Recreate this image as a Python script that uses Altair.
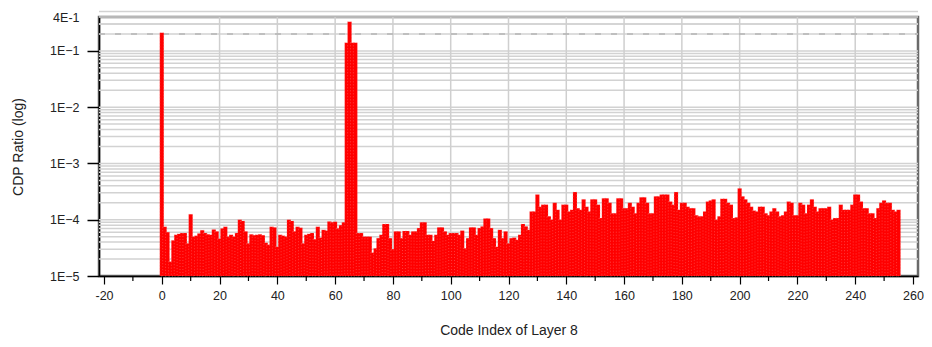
import altair as alt
import pandas as pd

# CDP ratio per code index
cdp_0_63 = [
    0.21, 7.5e-5, 6.0e-5, 1.8e-5, 4.3e-5, 5.4e-5, 5.6e-5, 5.8e-5,
    5.8e-5, 3.8e-5, 1.25e-4, 5.0e-5, 5.2e-5, 5.7e-5, 6.5e-5, 5.8e-5,
    5.5e-5, 5.4e-5, 6.7e-5, 6.2e-5, 4.6e-5, 7.0e-5, 7.5e-5, 5.0e-5,
    5.4e-5, 5.0e-5, 5.8e-5, 1.0e-4, 9.5e-5, 6.2e-5, 3.8e-5, 5.5e-5,
    5.3e-5, 5.4e-5, 5.5e-5, 5.3e-5, 3.9e-5, 3.6e-5, 7.5e-5, 7.3e-5,
    3.3e-5, 5.4e-5, 5.2e-5, 5.0e-5, 1.0e-4, 9.5e-5, 6.2e-5, 7.5e-5,
    7.2e-5, 3.8e-5, 5.4e-5, 5.6e-5, 5.8e-5, 4.5e-5, 7.5e-5, 4.8e-5,
    6.6e-5, 6.4e-5, 9.3e-5, 9.0e-5, 9.2e-5, 7.0e-5, 8.0e-5, 9.0e-5,
]
cdp_64_127 = [
    0.14, 0.33, 0.14, 0.14, 5.8e-5, 5.8e-5, 5.0e-5, 5.0e-5,
    5.0e-5, 2.6e-5, 3.1e-5, 4.7e-5, 5.4e-5, 8.4e-5, 8.4e-5, 4.7e-5,
    3.0e-5, 6.2e-5, 6.2e-5, 4.7e-5, 6.3e-5, 6.3e-5, 5.4e-5, 6.2e-5,
    6.2e-5, 7.1e-5, 9.0e-5, 9.0e-5, 5.4e-5, 5.4e-5, 4.2e-5, 5.4e-5,
    7.3e-5, 7.3e-5, 6.2e-5, 5.4e-5, 5.8e-5, 5.8e-5, 5.8e-5, 5.4e-5,
    6.4e-5, 3.1e-5, 4.7e-5, 7.3e-5, 7.3e-5, 5.4e-5, 7.1e-5, 7.6e-5,
    1.05e-4, 1.05e-4, 7.1e-5, 4.7e-5, 3.3e-5, 6.6e-5, 4.7e-5, 6.2e-5,
    3.8e-5, 4.7e-5, 4.8e-5, 4.4e-5, 5.4e-5, 8.4e-5, 7.6e-5, 6.6e-5,
]
cdp_128_191 = [
    1.4e-4, 1.4e-4, 2.8e-4, 1.7e-4, 1.85e-4, 1.85e-4, 1.15e-4, 1.0e-4,
    2.0e-4, 1.5e-4, 1.0e-4, 1.85e-4, 1.85e-4, 1.4e-4, 1.5e-4, 3.1e-4,
    1.6e-4, 1.5e-4, 2.3e-4, 1.7e-4, 1.4e-4, 2.3e-4, 2.3e-4, 1.85e-4,
    1.07e-4, 2.4e-4, 2.4e-4, 2.0e-4, 1.3e-4, 1.3e-4, 2.4e-4, 2.4e-4,
    1.6e-4, 1.6e-4, 2.0e-4, 1.7e-4, 1.3e-4, 2.0e-4, 2.5e-4, 2.5e-4,
    2.0e-4, 1.3e-4, 1.3e-4, 2.6e-4, 2.6e-4, 2.8e-4, 2.8e-4, 2.8e-4,
    2.1e-4, 1.85e-4, 3.1e-4, 1.5e-4, 2.0e-4, 2.0e-4, 1.7e-4, 1.6e-4,
    1.6e-4, 1.2e-4, 1.15e-4, 1.15e-4, 1.4e-4, 2.1e-4, 2.2e-4, 2.3e-4,
]
cdp_192_255 = [
    1.0e-4, 1.15e-4, 2.35e-4, 2.35e-4, 2.0e-4, 1.85e-4, 1.07e-4, 1.1e-4,
    3.6e-4, 2.6e-4, 2.3e-4, 2.0e-4, 1.7e-4, 1.45e-4, 1.4e-4, 1.7e-4,
    1.7e-4, 1.3e-4, 1.2e-4, 1.4e-4, 1.6e-4, 1.4e-4, 1.15e-4, 1.2e-4,
    1.4e-4, 2.1e-4, 2.0e-4, 1.2e-4, 1.2e-4, 2.0e-4, 1.85e-4, 1.3e-4,
    1.85e-4, 2.3e-4, 1.7e-4, 1.4e-4, 1.6e-4, 1.6e-4, 1.6e-4, 1.7e-4,
    1.0e-4, 1.07e-4, 1.07e-4, 1.85e-4, 1.5e-4, 1.5e-4, 1.5e-4, 1.85e-4,
    2.8e-4, 2.8e-4, 2.1e-4, 1.6e-4, 1.6e-4, 1.3e-4, 1.3e-4, 1.07e-4,
    1.6e-4, 2.0e-4, 2.2e-4, 2.0e-4, 2.0e-4, 1.5e-4, 1.4e-4, 1.5e-4,
]
cdp_values = cdp_0_63 + cdp_64_127 + cdp_128_191 + cdp_192_255
code_index = list(range(len(cdp_values)))
y_floor = 1e-5

x_major_ticks = list(range(-20, 261, 20))
x_minor_ticks = list(range(-10, 260, 20))
x_grid = list(range(20, 241, 20))
y_label_values = [1e-5, 1e-4, 1e-3, 1e-2, 1e-1, 0.4]
y_grid = [m * 10.0 ** k for k in range(-5, 0) for m in range(1, 10)][1:] + [3e-1]
y_dashed = [2e-1]

W, H = 819, 259
FONT = "Liberation Sans"

bars_df = pd.DataFrame({"idx": code_index, "cdp": cdp_values, "base": y_floor})

xscale = alt.Scale(domain=[-20, 260], nice=False, zero=False)
yscale = alt.Scale(type="log", domain=[1e-5, 0.4], nice=False)

xaxis = alt.Axis(
    values=x_major_ticks,
    title="Code Index of Layer 8",
    grid=False,
    labelExpr="'' + datum.value",
    domainColor="#000",
    domainWidth=1.5,
    tickColor="#000",
    tickWidth=1.2,
    tickSize=8,
    labelPadding=5,
    labelFont=FONT,
    labelFontSize=12.5,
    labelColor="#222",
    titleFont=FONT,
    titleFontSize=14,
    titleFontWeight="normal",
    titleColor="#222",
    titlePadding=22,
    labelFlush=False,
)
yaxis = alt.Axis(
    values=y_label_values,
    title="CDP Ratio (log)",
    grid=False,
    labelExpr="datum.value > 0.3 ? '4E-1' : '1E' + format(round(log(datum.value) / LN10), 'd')",
    domainColor="#000",
    domainWidth=1.5,
    tickColor="#000",
    tickWidth=1.5,
    tickSize=12,
    tickOpacity={"condition": {"test": "datum.value > 0.3", "value": 0}, "value": 1},
    labelPadding=8,
    labelFont=FONT,
    labelFontSize=12.5,
    labelColor="#222",
    titleFont=FONT,
    titleFontSize=14,
    titleFontWeight="normal",
    titleColor="#222",
    titlePadding=24,
)

X = alt.X("idx:Q", scale=xscale, axis=xaxis)
Y = alt.Y("cdp:Q", scale=yscale, axis=yaxis)

hgrid = alt.Chart(pd.DataFrame({"cdp": y_grid})).mark_rule(
    color="#d2d2d2", strokeWidth=1.5
).encode(y=Y, x=alt.value(0), x2=alt.value(W))

vgrid = alt.Chart(pd.DataFrame({"idx": x_grid})).mark_rule(
    color="#cfcfcf", strokeWidth=1.5
).encode(x=X, y=alt.value(0), y2=alt.value(H))

dashed = alt.Chart(pd.DataFrame({"cdp": y_dashed})).mark_rule(
    color="#b5b5b5", strokeWidth=1.5, strokeDash=[6, 10]
).encode(y=Y, x=alt.value(0), x2=alt.value(W))

bars = alt.Chart(bars_df).mark_bar(
    color="#ff0000", width=4, stroke="#ff9a9a", strokeWidth=0.4, strokeDash=[1, 2]
).encode(x=X, y=Y, y2="base:Q")

minor = alt.Chart(pd.DataFrame({"idx": x_minor_ticks})).mark_rule(
    color="#000", strokeWidth=1.2
).encode(x=X, y=alt.value(H), y2=alt.value(H + 5))

chart = alt.layer(hgrid, vgrid, dashed, bars, minor).properties(
    width=W,
    height=H,
    background="white",
    autosize=alt.AutoSizeParams(type="none"),
    padding={"left": 91, "top": 9, "right": 6, "bottom": 63},
).configure_view(stroke="#6a6a6a", strokeWidth=2.5)

chart.save("out.html", embed_options={"renderer": "svg", "actions": False})
